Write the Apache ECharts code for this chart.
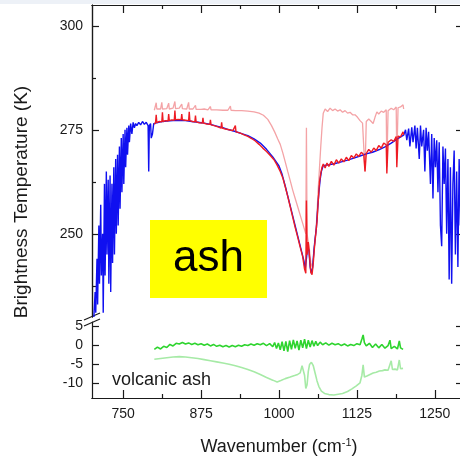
<!DOCTYPE html>
<html>
<head>
<meta charset="utf-8">
<script src="https://cdn.jsdelivr.net/npm/echarts@6/dist/echarts.min.js"></script>
<style>
  html, body { margin: 0; padding: 0; background: #fff; }
  #chart { width: 460px; height: 459px; }
</style>
</head>
<body>
<div id="chart"></div>
<script>
// Brightness temperature spectra [wavenumber cm^-1, K]
const blueSpectrum = [
  [703,230],[705,236],[706,231],[708,244],[709,233],[711,252],[712,238],[714,257],[715,240],[717,250],
  [718,231],[720,262],[721,240],[723,265],[724,245],[726,263],[727,238],[729,264],[730,236],[732,262],
  [733,243],[735,266],[736,245],[738,268],[739,250],[741,269],[742,252],[744,271],[745,256],[747,273],
  [748,260],[750,274],[751,262],[753,275],[754,266],[756,275.5],[757,269],[759,276],[760,272],[762,276.5],
  [764,274],[766,276.8],[768,275.5],[770,276.5],[772,276],[775,276.8],[778,276.2],[781,277],[784,276.3],
  [787,276.8],[790,276],[791,265],[792,276],[794,276.5],[795,273],[797,274],[799,276.5],
  [800,276.6],[810,276.9],[820,277.1],[830,277.2],[840,277.3],[850,277.2],[860,277.0],[870,276.8],
  [880,276.6],[890,276.3],[900,275.9],[910,275.5],[920,275.0],[930,274.6],[940,274.1],[950,273.6],
  [960,272.8],[970,271.8],[980,270.3],[990,268.5],[1000,266.3],[1005,264.3],[1010,261.5],[1015,258.5],
  [1020,255.5],[1025,252.5],[1030,249.5],[1035,246.5],[1040,243.5],[1042,241.5],[1044,244],[1046,247],
  [1048,246],[1050,242],[1052,240.5],[1054,242],[1056,246],[1058,249],[1060,251.5],[1062,256],[1064,260],
  [1066,263],[1068,265],[1071,266.4],[1080,266.6],[1090,266.9],[1100,267.3],[1110,267.7],[1120,268.2],
  [1130,268.7],[1140,269.2],[1150,269.6],[1160,270.2],[1170,270.9],[1180,271.8],[1190,272.8],[1200,273.7],
  [1203,275],[1205,272.5],[1208,275.3],[1210,271],[1213,275.6],[1215,272],[1218,276],[1220,270.5],
  [1222,275.5],[1225,268],[1227,276],[1229,271],[1232,275],[1234,265],[1236,275.5],[1238,270],[1240,274.5],
  [1243,262],[1245,274],[1247,258.5],[1249,273],[1251,266],[1253,272.5],[1255,260],[1257,272],[1259,252],
  [1261,247],[1263,271],[1265,262],[1267,270.5],[1269,250],[1271,268],[1273,239],[1275,266],[1277,238],
  [1279,262],[1281,270],[1283,245],[1285,265],[1287,242],[1289,268],[1291,252],[1294,266],[1297,255],[1300,264]
];

const redSpectrum = [
  [800,276.3],[802,276.8],[803,278.6],[804,276.7],[808,277],[812,276.9],[813,279.2],[814,277],[818,277.2],
  [822,277.1],[823,278.8],[824,277.2],[828,277.4],[832,277.3],[833,279.6],[834,277.4],[838,277.5],
  [843,277.4],[844,278.8],[845,277.4],[850,277.3],[855,277.2],[856,279.3],[857,277.2],[861,277],
  [865,276.9],[866,278.4],[867,276.9],[872,276.7],[877,276.6],[878,277.9],[879,276.6],[884,276.4],
  [889,276.3],[890,277.4],[891,276.2],[896,276],[902,275.7],[907,275.4],[908,276.8],[909,275.4],
  [914,275.2],[920,275],[926,274.8],[929,274.6],[930,276],[931,274.5],[938,274.2],[944,273.8],[950,273.4],
  [956,272.9],[962,272.3],[968,271.5],[974,270.6],[980,269.8],[986,268.8],[992,267.8],[997,266.5],
  [1002,265],[1006,263.5],[1010,261.3],[1014,259],[1018,256.5],[1022,254],[1026,251.5],[1030,249.2],
  [1034,246.8],[1038,244.5],[1041,241.5],[1043,240.5],[1044,258],[1045,245],[1047,248],[1049,244.5],
  [1051,240.8],[1053,240.2],[1055,243],[1057,247],[1059,250],[1061,253],[1063,258],[1065,262.5],
  [1067,264.5],[1069,266],[1071,266.8],[1074,265.8],[1077,267],[1080,266.2],[1084,267.4],[1088,266.5],
  [1092,267.8],[1096,267],[1100,268],[1104,267.3],[1108,268.4],[1112,267.6],[1116,268.8],[1120,268.2],
  [1124,269.2],[1128,268.6],[1132,269.6],[1136,269],[1138,265],[1140,269.3],[1144,270.3],[1148,269.6],
  [1152,270.6],[1156,270],[1160,271.2],[1164,270.6],[1168,271.8],[1172,271.4],[1173,264.5],[1175,272],
  [1180,272.6],[1184,272.2],[1188,273.4],[1189,266],[1191,273.5],[1195,273.3],[1199,274.5],[1200,273.8]
];

const pinkSpectrum = [
  [800,279.7],[802,280],[803,281.5],[804,280],[810,280],[811,280.1],[812,281.6],[813,280],[820,280.1],
  [822,280.1],[823,281.4],[824,280],[830,280.2],[832,280.1],[833,281.8],[834,280.1],[840,280.2],
  [843,280.1],[844,281.2],[845,280.1],[852,280],[854,280],[855,281.6],[856,280],[862,280],[865,279.9],
  [866,280.9],[867,279.9],[875,279.9],[880,280],[886,279.8],[889,279.8],[890,280.6],[891,279.8],
  [900,279.8],[910,279.7],[918,279.7],[921,279.7],[922,280.7],[923,279.7],[930,279.6],[940,279.6],
  [950,279.5],[960,279.3],[968,279],[975,278.5],[982,277.5],[988,276],[993,274.5],[998,272.8],
  [1002,271.5],[1006,269.5],[1010,267.3],[1014,265],[1018,262.8],[1022,260.5],[1026,258.5],[1030,256.5],
  [1034,254.5],[1038,252.5],[1041,251],[1043,250],[1044,275.5],[1045,250],[1047,248],[1049,246],
  [1051,243],[1053,242],[1055,244],[1057,247],[1059,250],[1061,255],[1063,261],[1065,266],[1067,271],
  [1069,275.5],[1071,279],[1074,280],[1078,279.4],[1082,280.2],[1086,279.6],[1090,280],[1094,279.5],
  [1098,279.8],[1102,279.2],[1106,279.6],[1110,279],[1114,279.2],[1118,278.6],[1122,278.6],[1126,278],
  [1130,277.2],[1134,276.6],[1136,276.8],[1138,265],[1140,277],[1144,277.6],[1148,277],[1151,276.5],
  [1154,278],[1157,279.3],[1160,278.8],[1164,279.5],[1168,279.2],[1172,279.8],[1173,266],[1175,279.6],
  [1180,280.2],[1184,279.8],[1188,280.5],[1189,268],[1191,280.3],[1195,280.5],[1199,281],[1200,280]
];

// Differences (K), lower panel
const greenDiff = [
  [800,-1.2],[805,-0.6],[810,-1.1],[815,-0.4],[820,-0.7],[825,0.1],[830,-0.3],[835,0.4],[840,0.2],
  [845,0.6],[850,0.2],[855,0.5],[860,0.1],[865,0.4],[870,0],[875,0.3],[880,-0.1],[885,0.2],[890,-0.3],
  [895,0.1],[900,-0.4],[905,-0.1],[910,-0.5],[915,-0.2],[920,-0.6],[925,-0.2],[930,-0.5],[935,-0.1],
  [940,-0.4],[945,0],[950,-0.2],[955,0.2],[960,-0.1],[965,0.3],[970,0],[975,0.4],[980,-0.2],[985,0.3],
  [990,-0.5],[993,0.6],[996,-1],[999,0.5],[1002,-1.3],[1005,0.8],[1008,-1.6],[1011,0.9],[1014,-1.8],
  [1017,1.1],[1020,-1.2],[1023,1.3],[1026,-0.9],[1029,1],[1032,-1.4],[1035,1.2],[1038,-0.8],[1041,1.5],
  [1044,-1],[1047,1.2],[1050,-0.6],[1053,1.1],[1056,-0.4],[1059,0.9],[1062,-0.2],[1066,0.7],[1070,0],
  [1075,0.5],[1080,-0.1],[1085,0.4],[1090,0],[1095,0.3],[1100,-0.2],[1105,0.2],[1110,-0.3],[1115,0.1],
  [1120,-0.2],[1125,0.3],[1130,0],[1133,1.5],[1135,2.6],[1137,0.6],[1140,-0.3],[1145,0.4],[1150,-0.7],
  [1155,0.2],[1160,-0.8],[1165,0.1],[1170,-0.9],[1175,-0.2],[1178,1.2],[1180,-1],[1185,-0.4],[1190,-1.1],
  [1193,1],[1195,-0.8],[1199,-1.2]
];

const lightGreenDiff = [
  [800,-3.8],[810,-3.6],[820,-3.4],[830,-3.2],[840,-3.1],[850,-3.2],[860,-3.4],[870,-3.6],[880,-3.9],
  [890,-4.2],[900,-4.5],[910,-4.8],[920,-5.1],[930,-5.5],[940,-6],[950,-6.5],[960,-7.1],[970,-7.8],
  [980,-8.6],[990,-9.3],[997,-9.8],[1003,-9.4],[1010,-8.9],[1018,-8.5],[1025,-8.1],[1030,-7.8],[1034,-7.4],
  [1037,-5.5],[1039,-5],[1041,-8],[1043,-11.5],[1045,-10.5],[1047,-7],[1049,-5.2],[1052,-4.6],[1055,-5.5],
  [1058,-7.5],[1061,-9.5],[1064,-11],[1068,-12.2],[1073,-12.8],[1080,-13.1],[1088,-13.2],[1095,-13],
  [1102,-12.8],[1110,-12.3],[1117,-11.6],[1124,-10.8],[1130,-10],[1133,-8],[1135,-5.3],[1137,-8.5],
  [1141,-8.2],[1146,-7.8],[1151,-7.4],[1156,-7.2],[1161,-6.9],[1166,-6.8],[1170,-6.6],[1175,-6.7],
  [1178,-6.5],[1180,-4.2],[1182,-6.5],[1186,-6.4],[1190,-6.6],[1193,-4],[1195,-6.3],[1199,-6.2]
];

// Axis ticks
const xMajorTicks = [750, 875, 1000, 1125, 1250];
const xMinorTicks = [812.5, 937.5, 1062.5, 1187.5];
const tempMajorTicks = [250, 275, 300];
const tempMinorTicks = [237.5, 262.5, 287.5];
const diffTicks = [-10, -5, 0, 5];

const FONT = "'Liberation Sans', Arial, sans-serif";
const INK = '#1a1a1a';

const chart = echarts.init(document.getElementById('chart'), null, { renderer: 'canvas' });

const axisLineStyle = { show: true, onZero: false, lineStyle: { color: INK, width: 1.2 } };
const noLabel = { show: false };
const plainNumber = v => String(v);

function xAx(gridIndex, position, ticks, len, labels, extra) {
  return Object.assign({
    type: 'value', gridIndex, position, min: 700, max: 1300,
    axisLine: axisLineStyle,
    axisTick: { show: true, inside: true, length: len, customValues: ticks, lineStyle: { color: INK, width: 1.2 } },
    axisLabel: labels ? { show: true, customValues: ticks, formatter: plainNumber, fontSize: 14, color: INK, fontFamily: FONT, margin: 9 } : noLabel,
    splitLine: { show: false }
  }, extra || {});
}

function yAx(gridIndex, position, min, max, ticks, len, labels) {
  return {
    type: 'value', gridIndex, position, min, max,
    axisLine: axisLineStyle,
    axisTick: { show: true, inside: true, length: len, customValues: ticks, lineStyle: { color: INK, width: 1.2 } },
    axisLabel: labels ? { show: true, customValues: ticks, formatter: plainNumber, fontSize: 14, color: INK, fontFamily: FONT, margin: 9 } : noLabel,
    splitLine: { show: false }
  };
}

const option = {
  animation: false,
  backgroundColor: '#ffffff',
  grid: [
    { left: 92, top: 5, width: 374, height: 312, outerBoundsMode: 'none', containLabel: false },
    { left: 92, top: 322, width: 374, height: 76, outerBoundsMode: 'none', containLabel: false }
  ],
  xAxis: [
    xAx(0, 'top', xMajorTicks, 8, false),
    xAx(0, 'top', xMinorTicks, 4, false),
    xAx(1, 'bottom', xMajorTicks, 8, true, {
      name: '{t|Wavenumber (cm}{s|-1}{t|)}',
      nameLocation: 'middle',
      nameGap: 39,
      nameTextStyle: {
        rich: {
          t: { fontSize: 18, fontFamily: FONT, color: INK },
          s: { fontSize: 11, fontFamily: FONT, color: INK, verticalAlign: 'top', padding: [0, 0, 10, 0] }
        }
      }
    }),
    xAx(1, 'bottom', xMinorTicks, 4, false)
  ],
  yAxis: [
    yAx(0, 'left', 230, 305, tempMajorTicks, 7, true),
    yAx(0, 'left', 230, 305, tempMinorTicks, 4, false),
    yAx(0, 'right', 230, 305, tempMajorTicks, 10, false),
    yAx(1, 'left', -14, 6, diffTicks, 7, true),
    yAx(1, 'right', -14, 6, diffTicks, 10, false)
  ],
  series: [
    { type: 'line', xAxisIndex: 0, yAxisIndex: 0, data: pinkSpectrum, showSymbol: false,
      lineStyle: { color: '#f4a3a6', width: 1.3 }, z: 2 },
    { type: 'line', xAxisIndex: 0, yAxisIndex: 0, data: blueSpectrum, showSymbol: false,
      lineStyle: { color: '#1010f0', width: 1.4 }, z: 3 },
    { type: 'line', xAxisIndex: 0, yAxisIndex: 0, data: redSpectrum, showSymbol: false,
      lineStyle: { color: '#ee1c24', width: 1.4 }, z: 4 },
    { type: 'line', xAxisIndex: 2, yAxisIndex: 3, data: lightGreenDiff, showSymbol: false,
      lineStyle: { color: '#a6eaa6', width: 1.6 }, z: 2 },
    { type: 'line', xAxisIndex: 2, yAxisIndex: 3, data: greenDiff, showSymbol: false,
      lineStyle: { color: '#2ed42e', width: 1.6 }, z: 3 }
  ],
  graphic: [
    { type: 'rect', shape: { x: 0, y: 0, width: 460, height: 4 }, style: { fill: '#edf1f7' }, silent: true },
    // axis break marks
    { type: 'line', shape: { x1: 84, y1: 320, x2: 100, y2: 313 }, style: { stroke: INK, lineWidth: 1.2 } },
    { type: 'line', shape: { x1: 84, y1: 326, x2: 100, y2: 319 }, style: { stroke: INK, lineWidth: 1.2 } },
    { type: 'text', x: 22, y: 202, rotation: Math.PI / 2,
      style: { text: 'Brightness Temperature (K)', font: '19px ' + FONT, fill: INK, align: 'center', verticalAlign: 'middle' } },
    { type: 'rect', shape: { x: 150, y: 220, width: 117, height: 78 }, style: { fill: '#ffff00' }, z: 10 },
    { type: 'text', x: 208.5, y: 259, z: 11,
      style: { text: 'ash', font: '44px ' + FONT, fill: '#000', align: 'center', verticalAlign: 'middle' } },
    { type: 'text', x: 112, y: 380, z: 11,
      style: { text: 'volcanic ash', font: '18px ' + FONT, fill: INK, align: 'left', verticalAlign: 'middle' } }
  ]
};

chart.setOption(option);
</script>
</body>
</html>
